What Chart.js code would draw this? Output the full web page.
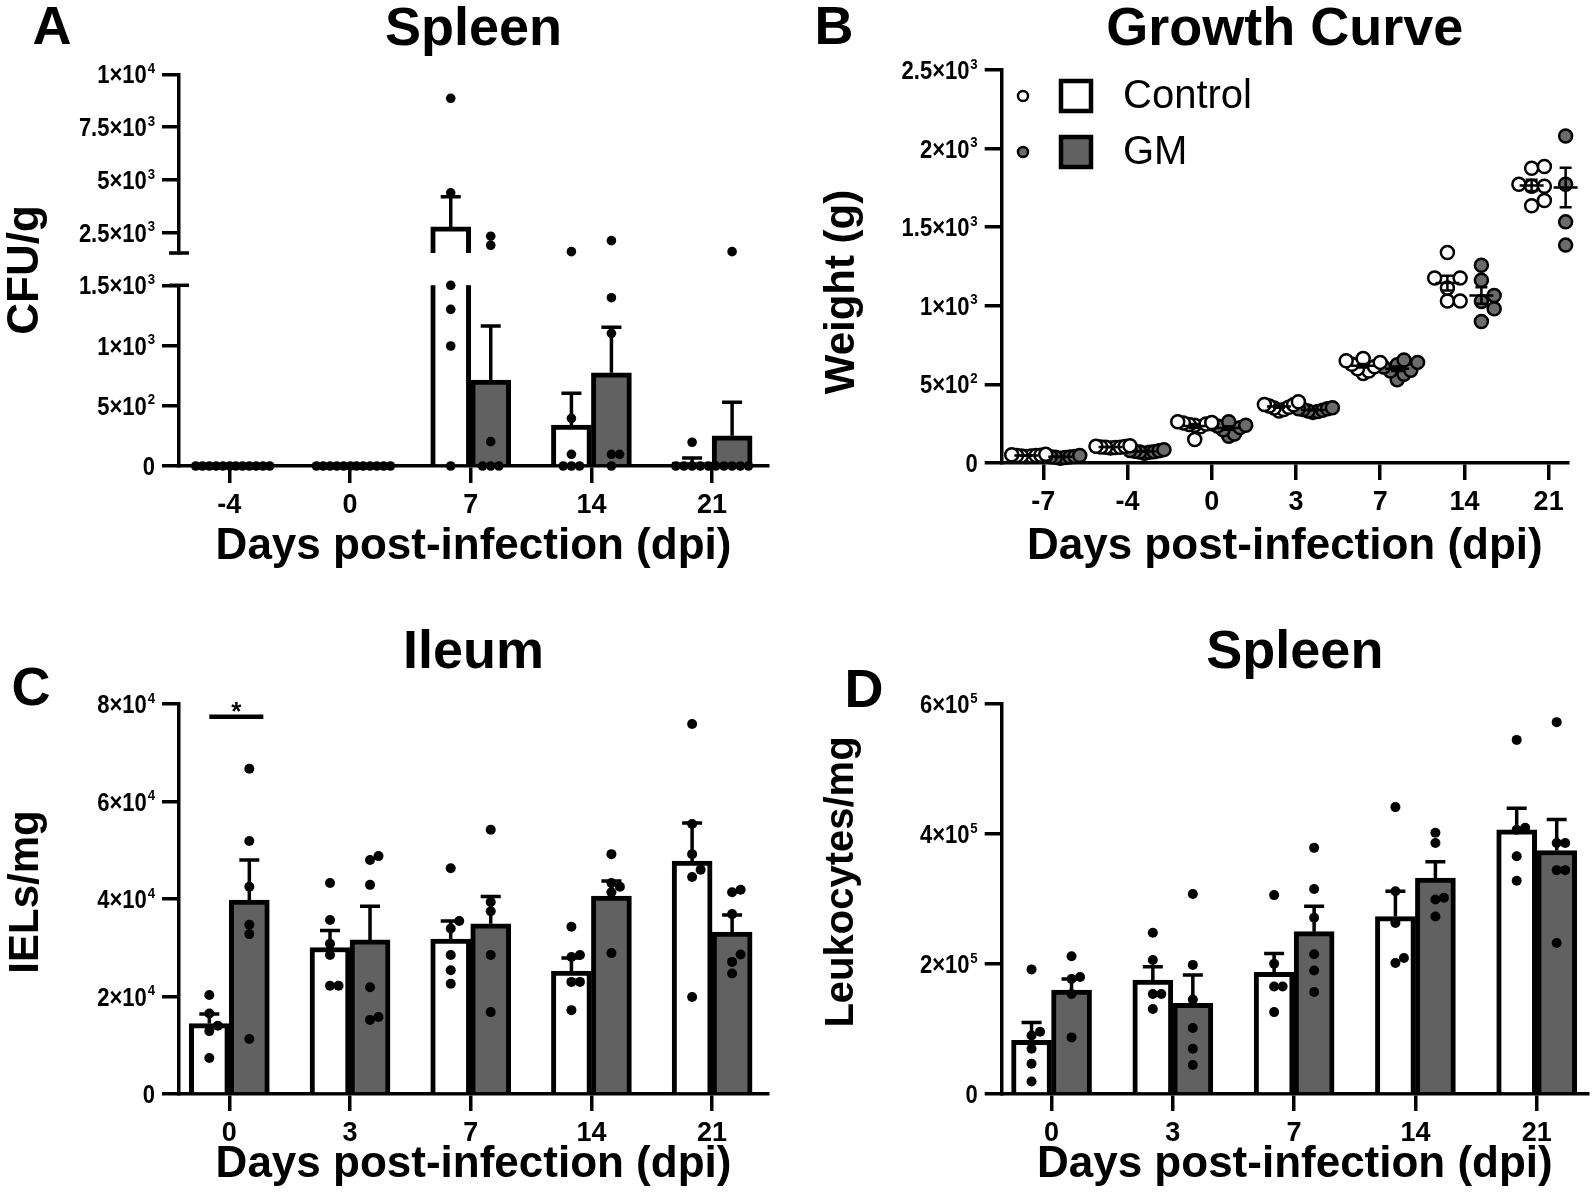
<!DOCTYPE html>
<html>
<head>
<meta charset="utf-8">
<script src="https://cdn.jsdelivr.net/npm/chart.js@4.4.1/dist/chart.umd.min.js"></script>
<style>
  html, body { margin: 0; padding: 0; background: #fff; }
  #wrap { position: relative; width: 1593px; height: 1194px; overflow: hidden; background: #fff; }
  #wrap canvas { position: absolute; left: 0; top: 0; }
</style>
</head>
<body>
<div id="wrap">
  <canvas id="aTop" width="1593" height="1194"></canvas>
  <canvas id="aLow" width="1593" height="1194"></canvas>
  <canvas id="growth" width="1593" height="1194"></canvas>
  <canvas id="ileum" width="1593" height="1194"></canvas>
  <canvas id="spleen" width="1593" height="1194"></canvas>
</div>
<script>
// ---- data ----
const daysA = ['-4', '0', '7', '14', '21'];
const daysB = ['-7', '-4', '0', '3', '7', '14', '21'];
const daysCD = ['0', '3', '7', '14', '21'];

// A: spleen CFU/g (bar = mean, err = top of SEM whisker)
const aCtrlMean = [0, 0, 2784, 340, 33];
const aCtrlErr = [0, 0, 4205, 603, 66];
const aGmMean = [0, 0, 714, 774, 251];
const aGmErr = [0, 0, 1162, 1151, 530];
const aCtrlPts = [[0, 0, 0, 0, 0, 0], [0, 0, 0, 0, 0, 0], [8864, 4394, 1500, 1300, 996, 0], [1615, 395, 97, 0, 0, 0], [197, 0, 0, 0, 0, 0]];
const aGmPts = [[0, 0, 0, 0, 0, 0], [0, 0, 0, 0, 0, 0], [2344, 1917, 202, 0, 0, 0], [2135, 1397, 1101, 97, 97, 0], [1615, 0, 0, 0, 0, 0]];
const aTicksLow = [0, 500, 1000, 1500];
const aTicksHigh = [2500, 5000, 7500, 10000];

// B: growth curve, weight (g)
const bCtrlPts = [
  [52, 48, 45, 50, 42, 55, 47, 44],
  [105, 100, 96, 110, 102, 98, 106, 100],
  [255, 248, 240, 262, 230, 245, 258, 150],
  [390, 370, 355, 340, 362, 350, 372, 330],
  [665, 650, 628, 600, 585, 640, 612, 570],
  [1339, 1177, 1177, 1113, 1030, 1030],
  [1886, 1875, 1773, 1761, 1761, 1670, 1636]
];
const bGmPts = [
  [40, 35, 45, 38, 30, 48, 42, 36],
  [75, 68, 80, 62, 85, 72, 78, 70],
  [262, 240, 225, 250, 170, 185, 235, 212],
  [352, 345, 330, 340, 328, 335, 322, 345],
  [655, 625, 590, 565, 610, 640, 585, 530],
  [1258, 1162, 1066, 1028, 981, 900],
  [2148, 2080, 1773, 1591, 1534, 1386]
];
const bTicks = [0, 500, 1000, 1500, 2000, 2500];

// C: ileum IELs/mg
const cCtrlMean = [14440, 30050, 31770, 25200, 47800];
const cCtrlErr = [16400, 33560, 35500, 27900, 55600];
const cGmMean = [39800, 31600, 34900, 40600, 33200];
const cGmErr = [48000, 38500, 40500, 43700, 36700];
const cCtrlPts = [[20300, 16500, 14000, 12900, 7400], [43300, 35700, 30800, 28500, 22200, 22200], [46300, 35500, 33950, 28500, 25400, 22600], [34300, 28500, 28100, 23000, 23000, 17200], [75900, 55400, 49200, 46000, 44500, 19900]];
const cGmPts = [[66700, 51900, 42500, 34700, 32800, 11300], [48000, 48800, 42900, 21900, 15200, 15800], [54200, 39400, 37500, 28500, 16800], [49200, 43300, 42500, 41400, 28900], [41400, 41900, 36900, 28600, 27100, 24700]];
const cTicks = [0, 20000, 40000, 60000, 80000];
const cSigLevel = 77400;

// D: spleen leukocytes/mg
const dCtrlMean = [82500, 175400, 187000, 273000, 406600];
const dCtrlErr = [110000, 195700, 216000, 311900, 439700];
const dGmMean = [159700, 139400, 249700, 332200, 374600];
const dGmErr = [177100, 183000, 288700, 357200, 422200];
const dCtrlPts = [[191700, 95800, 90000, 69700, 46500, 19200], [248000, 206200, 153900, 153900, 130700], [306000, 200400, 165500, 165500, 126000], [441400, 311900, 263100, 201500, 209100], [544800, 406600, 409500, 365900, 328200]];
const dGmPts = [[212000, 180000, 177000, 153900, 87100], [307800, 198600, 145200, 101600, 69700, 44700], [378700, 315400, 271200, 214900, 189900, 156800], [401900, 386200, 302000, 299100, 273000], [572100, 386200, 386200, 344400, 344400, 232300]];
const dTicks = [0, 200000, 400000, 600000];

// ---- styling ----
const FONT = "'Liberation Sans', Arial, Helvetica, sans-serif";
Chart.defaults.font.family = FONT;
Chart.defaults.color = '#000';
const GM_FILL = '#616161';
const GM_DOT = '#6b6b6b';
const AX = 3.5;
const TICK = 17;

// "2.5", "3" for 2500 -> drawn as 2.5×10 with a raised exponent
function sciParts(v) {
  if (v === 0) return ['0', ''];
  const e = Math.floor(Math.log10(v) + 1e-9);
  const m = Math.round(v / Math.pow(10, e) * 100) / 100;
  return [m + '×10', String(e)];
}

// y tick labels with a proper superscript, placed by the y scale
const sciTicks = {
  id: 'sciTicks',
  afterDraw(chart) {
    const ys = chart.scales.y, ctx = chart.ctx;
    const right = chart.chartArea.left - TICK - 7;
    ctx.save();
    ctx.fillStyle = '#000';
    ys.ticks.forEach(t => {
      const y = ys.getPixelForValue(t.value);
      const [base, exp] = sciParts(t.value);
      ctx.save();
      ctx.translate(right, y);
      ctx.scale(0.88, 1);
      ctx.textAlign = 'right';
      ctx.textBaseline = 'alphabetic';
      let x = 0;
      if (exp) {
        ctx.font = 'bold 15px ' + FONT;
        ctx.fillText(exp, 0, -1.5);
        x = -ctx.measureText(exp).width - 1;
      }
      ctx.font = 'bold 25px ' + FONT;
      ctx.fillText(base, x, 9);
      ctx.restore();
    });
    ctx.restore();
  }
};

function xAxis(labels, min, max, height, show) {
  return {
    type: 'linear', min, max, display: show, offset: false,
    afterBuildTicks: s => { s.ticks = labels.map((_, i) => ({ value: i })); },
    afterFit: s => { s.height = height; },
    ticks: { callback: v => labels[v], font: { size: 27, weight: 'bold' }, padding: 6, maxRotation: 0, autoSkip: false, color: '#000' },
    grid: { offset: false, drawOnChartArea: false, tickLength: TICK, lineWidth: AX, color: '#000' },
    border: { display: true, width: AX, color: '#000' },
    title: { display: show, text: 'Days post-infection (dpi)', color: '#000', font: { size: 44, weight: 'bold', lineHeight: 1 }, padding: 0 }
  };
}

function yAxis(min, max, ticks) {
  return {
    type: 'linear', min, max,
    afterBuildTicks: s => { s.ticks = ticks.map(v => ({ value: v })); },
    afterFit: s => { s.width = 150; },
    ticks: { display: false, autoSkip: false },
    grid: { drawOnChartArea: false, tickLength: TICK, lineWidth: AX, color: '#000' },
    border: { display: true, width: AX, color: '#000' }
  };
}

function titleOpt(text, bottomPad) {
  return { display: true, text, fullSize: false, color: '#000', font: { size: 54, weight: 'bold', lineHeight: 1 }, padding: { top: 0, bottom: bottomPad } };
}

function barDs(label, means, fill) {
  return { type: 'bar', label, order: 2, data: means.map((y, i) => ({ x: i, y })),
    backgroundColor: fill, borderColor: '#000', borderWidth: 5, barThickness: 40, borderSkipped: 'start' };
}

function dotDs(label, groups, r, fill, bw) {
  return { type: 'scatter', label, order: 1, clip: false,
    data: groups.flatMap((vals, i) => vals.map(y => ({ x: i, y }))),
    pointRadius: r, pointHoverRadius: r, pointBackgroundColor: fill, pointBorderColor: '#000', pointBorderWidth: bw };
}

// spread overlapping dots sideways, like a scatter dot plot
function spread(chart, dsIdx, groups, centerOf, diam, maxW) {
  const xs = chart.scales.x, ys = chart.scales.y;
  const step = diam * 0.85;
  const out = [];
  groups.forEach((vals, i) => {
    if (!vals.length) return;
    const cx = centerOf(i);
    const placed = [];
    vals.map(v => ({ v, py: ys.getPixelForValue(v) }))
      .sort((a, b) => b.py - a.py)
      .forEach(p => {
        for (let n = 0; n < 80; n++) {
          const off = Math.ceil(n / 2) * step * (n % 2 ? 1 : -1);
          if (placed.every(q => Math.hypot(q.off - off, q.py - p.py) >= step - 0.01)) {
            placed.push({ v: p.v, py: p.py, off });
            break;
          }
        }
      });
    const offs = placed.map(p => p.off);
    const span = Math.max(...offs) - Math.min(...offs);
    const f = span > maxW ? maxW / span : 1;
    placed.forEach(p => out.push({ x: xs.getValueForPixel(cx + p.off * f), y: p.v }));
  });
  chart.data.datasets[dsIdx].data = out;
}

function drawRotated(ctx, text, x, y, size) {
  ctx.save();
  ctx.translate(x, y);
  ctx.rotate(-Math.PI / 2);
  ctx.font = 'bold ' + size + 'px ' + FONT;
  ctx.textAlign = 'center';
  ctx.textBaseline = 'middle';
  ctx.fillText(text, 0, 0);
  ctx.restore();
}

function drawLetter(ctx, text, x, y) {
  ctx.font = 'bold 54px ' + FONT;
  ctx.textAlign = 'center';
  ctx.textBaseline = 'middle';
  ctx.fillText(text, x, y);
}

// mean + SEM whiskers on top of the bars
function drawErrors(chart, series) {
  const ctx = chart.ctx, ys = chart.scales.y;
  const { left, right, top, bottom } = chart.chartArea;
  ctx.save();
  ctx.beginPath();
  ctx.rect(left, top - 5, right - left, bottom - top + 5);
  ctx.clip();
  ctx.strokeStyle = '#000';
  ctx.lineWidth = AX;
  series.forEach(s => {
    const bars = chart.getDatasetMeta(s.bar).data;
    s.mean.forEach((m, i) => {
      if (s.top[i] <= m) return;
      const x = bars[i].x;
      const y1 = ys.getPixelForValue(m), y2 = ys.getPixelForValue(s.top[i]);
      ctx.beginPath();
      ctx.moveTo(x, y1); ctx.lineTo(x, y2);
      ctx.moveTo(x - 10, y2); ctx.lineTo(x + 10, y2);
      ctx.stroke();
    });
  });
  ctx.restore();
}

function el(id) { return document.getElementById(id); }

const baseOpts = { responsive: false, animation: false, events: [] };
const noLegend = { legend: { display: false }, tooltip: { enabled: false } };

// ---------- Panel A (broken axis: two stacked charts) ----------
const aHighPts = g => g.map(v => v.filter(y => y > 1500));
const aLowPts = g => g.map(v => v.filter(y => y <= 1500));

const aTop = new Chart(el('aTop'), {
  type: 'bar',
  data: { datasets: [
    dotDs('Control', aHighPts(aCtrlPts), 4.8, '#000', 0),
    dotDs('GM', aHighPts(aGmPts), 4.8, '#000', 0),
    barDs('Control', aCtrlMean, '#ffffff'),
    barDs('GM', aGmMean, GM_FILL)
  ] },
  options: { ...baseOpts,
    layout: { padding: { left: 29, right: 825, top: 3, bottom: 941 } },
    scales: { x: xAxis(daysA, -0.417, 4.463, 0, false), y: yAxis(1550, 10000, aTicksHigh) },
    plugins: { ...noLegend, title: titleOpt('Spleen', 17.3) }
  },
  plugins: [sciTicks, {
    id: 'decorA1',
    afterDatasetsDraw(chart) {
      const ctx = chart.ctx, ca = chart.chartArea;
      drawErrors(chart, [{ bar: 2, mean: aCtrlMean, top: aCtrlErr }, { bar: 3, mean: aGmMean, top: aGmErr }]);
      ctx.save();
      ctx.fillStyle = '#000'; ctx.strokeStyle = '#000'; ctx.lineWidth = AX;
      ctx.beginPath(); ctx.moveTo(ca.left - 10, ca.bottom); ctx.lineTo(ca.left + 10, ca.bottom); ctx.stroke();
      drawLetter(ctx, 'A', 52, 29);
      drawRotated(ctx, 'CFU/g', 26, 270, 44);
      ctx.restore();
    }
  }]
});

const aLow = new Chart(el('aLow'), {
  type: 'bar',
  data: { datasets: [
    dotDs('Control', aLowPts(aCtrlPts), 4.8, '#000', 0),
    dotDs('GM', aLowPts(aGmPts), 4.8, '#000', 0),
    barDs('Control', aCtrlMean, '#ffffff'),
    barDs('GM', aGmMean, GM_FILL)
  ] },
  options: { ...baseOpts,
    layout: { padding: { left: 29, right: 825, top: 285.3, bottom: 625 } },
    scales: { x: xAxis(daysA, -0.417, 4.463, 103, true), y: yAxis(0, 1500, aTicksLow) },
    plugins: { ...noLegend }
  },
  plugins: [sciTicks, {
    id: 'decorA2',
    afterDatasetsDraw(chart) {
      const ctx = chart.ctx, ca = chart.chartArea;
      drawErrors(chart, [{ bar: 2, mean: aCtrlMean, top: aCtrlErr }, { bar: 3, mean: aGmMean, top: aGmErr }]);
      ctx.save();
      ctx.strokeStyle = '#000'; ctx.lineWidth = AX;
      ctx.beginPath(); ctx.moveTo(ca.left - 10, ca.top); ctx.lineTo(ca.left + 10, ca.top); ctx.stroke();
      ctx.restore();
    }
  }]
});

// ---------- Panel B (growth curve) ----------
function meanSem(vals) {
  const n = vals.length, m = vals.reduce((a, b) => a + b, 0) / n;
  const sd = Math.sqrt(vals.reduce((a, b) => a + (b - m) * (b - m), 0) / (n - 1));
  return [m, sd / Math.sqrt(n)];
}
const B_OFF = 17;

const growth = new Chart(el('growth'), {
  type: 'scatter',
  data: { datasets: [
    dotDs('Control', bCtrlPts, 6.5, '#ffffff', 2.5),
    dotDs('GM', bGmPts, 6.5, GM_DOT, 2.5)
  ] },
  options: { ...baseOpts,
    layout: { padding: { left: 851.7, right: 25, top: 3, bottom: 625 } },
    scales: { x: xAxis(daysB, -0.494, 6.23, 106, true), y: yAxis(0, 2500, bTicks) },
    plugins: { ...noLegend, title: titleOpt('Growth Curve', 13) }
  },
  plugins: [sciTicks, {
    id: 'decorB',
    afterDatasetsDraw(chart) {
      const ctx = chart.ctx, xs = chart.scales.x, ys = chart.scales.y;
      ctx.save();
      ctx.strokeStyle = '#000'; ctx.fillStyle = '#000'; ctx.lineWidth = 2.5;
      [[bCtrlPts, -B_OFF], [bGmPts, B_OFF]].forEach(([groups, off]) => {
        groups.forEach((vals, i) => {
          const [m, se] = meanSem(vals);
          const x = xs.getPixelForValue(i) + off;
          const ym = ys.getPixelForValue(m), yl = ys.getPixelForValue(m - se), yh = ys.getPixelForValue(m + se);
          ctx.beginPath();
          ctx.moveTo(x - 12, ym); ctx.lineTo(x + 12, ym);
          ctx.moveTo(x, yl); ctx.lineTo(x, yh);
          ctx.moveTo(x - 6, yl); ctx.lineTo(x + 6, yl);
          ctx.moveTo(x - 6, yh); ctx.lineTo(x + 6, yh);
          ctx.stroke();
        });
      });
      // legend
      [['Control', '#ffffff', '#ffffff', 96], ['GM', GM_DOT, GM_FILL, 152]].forEach(([name, dot, box, y]) => {
        ctx.strokeStyle = '#000';
        ctx.lineWidth = 2.5;
        ctx.beginPath(); ctx.arc(1023, y, 5, 0, Math.PI * 2);
        ctx.fillStyle = dot; ctx.fill(); ctx.stroke();
        ctx.lineWidth = 4.5;
        ctx.fillStyle = box;
        ctx.fillRect(1061, y - 15, 30, 30);
        ctx.strokeRect(1061, y - 15, 30, 30);
        ctx.fillStyle = '#000';
        ctx.font = '40px ' + FONT;
        ctx.textAlign = 'left'; ctx.textBaseline = 'middle';
        ctx.fillText(name, 1123, y + 1);
      });
      drawLetter(ctx, 'B', 834, 29);
      drawRotated(ctx, 'Weight (g)', 842, 292, 42);
      ctx.restore();
    }
  }]
});

// ---------- Panel C (ileum) ----------
const ileum = new Chart(el('ileum'), {
  type: 'bar',
  data: { datasets: [
    dotDs('Control', cCtrlPts, 5, '#000', 0),
    dotDs('GM', cGmPts, 5, '#000', 0),
    barDs('Control', cCtrlMean, '#ffffff'),
    barDs('GM', cGmMean, GM_FILL)
  ] },
  options: { ...baseOpts,
    layout: { padding: { left: 29, right: 825, top: 626, bottom: 7 } },
    scales: { x: xAxis(daysCD, -0.417, 4.463, 93, true), y: yAxis(0, 80000, cTicks) },
    plugins: { ...noLegend, title: titleOpt('Ileum', 24) }
  },
  plugins: [sciTicks, {
    id: 'decorC',
    afterDatasetsDraw(chart) {
      const ctx = chart.ctx, ys = chart.scales.y;
      drawErrors(chart, [{ bar: 2, mean: cCtrlMean, top: cCtrlErr }, { bar: 3, mean: cGmMean, top: cGmErr }]);
      ctx.save();
      ctx.fillStyle = '#000'; ctx.strokeStyle = '#000';
      const x1 = chart.getDatasetMeta(2).data[0].x, x2 = chart.getDatasetMeta(3).data[0].x + 14;
      const y = ys.getPixelForValue(cSigLevel);
      ctx.lineWidth = 4.5;
      ctx.beginPath(); ctx.moveTo(x1, y); ctx.lineTo(x2, y); ctx.stroke();
      ctx.font = 'bold 26px ' + FONT;
      ctx.textAlign = 'center'; ctx.textBaseline = 'alphabetic';
      ctx.fillText('*', (x1 + x2) / 2, y + 3);
      drawLetter(ctx, 'C', 31, 690);
      drawRotated(ctx, 'IELs/mg', 26, 892, 42);
      ctx.restore();
    }
  }]
});

// ---------- Panel D (spleen leukocytes) ----------
const spleen = new Chart(el('spleen'), {
  type: 'bar',
  data: { datasets: [
    dotDs('Control', dCtrlPts, 5, '#000', 0),
    dotDs('GM', dGmPts, 5, '#000', 0),
    barDs('Control', dCtrlMean, '#ffffff'),
    barDs('GM', dGmMean, GM_FILL)
  ] },
  options: { ...baseOpts,
    layout: { padding: { left: 851.7, right: 3, top: 626, bottom: 7 } },
    scales: { x: xAxis(daysCD, -0.411, 4.423, 93, true), y: yAxis(0, 600000, dTicks) },
    plugins: { ...noLegend, title: titleOpt('Spleen', 24) }
  },
  plugins: [sciTicks, {
    id: 'decorD',
    afterDatasetsDraw(chart) {
      const ctx = chart.ctx;
      drawErrors(chart, [{ bar: 2, mean: dCtrlMean, top: dCtrlErr }, { bar: 3, mean: dGmMean, top: dGmErr }]);
      ctx.save();
      ctx.fillStyle = '#000';
      drawLetter(ctx, 'D', 864, 692);
      drawRotated(ctx, 'Leukocytes/mg', 842, 882, 40);
      ctx.restore();
    }
  }]
});

// ---------- place the dots beside each other ----------
function barCenter(chart, idx) { return i => chart.getDatasetMeta(idx).data[i].x; }
spread(aTop, 0, aHighPts(aCtrlPts), barCenter(aTop, 2), 9.6, 34);
spread(aTop, 1, aHighPts(aGmPts), barCenter(aTop, 3), 9.6, 34);
spread(aLow, 0, aLowPts(aCtrlPts), barCenter(aLow, 2), 9.6, 34);
spread(aLow, 1, aLowPts(aGmPts), barCenter(aLow, 3), 9.6, 34);
spread(growth, 0, bCtrlPts, i => growth.scales.x.getPixelForValue(i) - B_OFF, 15, 34);
spread(growth, 1, bGmPts, i => growth.scales.x.getPixelForValue(i) + B_OFF, 15, 34);
spread(ileum, 0, cCtrlPts, barCenter(ileum, 2), 10, 30);
spread(ileum, 1, cGmPts, barCenter(ileum, 3), 10, 30);
spread(spleen, 0, dCtrlPts, barCenter(spleen, 2), 10, 30);
spread(spleen, 1, dGmPts, barCenter(spleen, 3), 10, 30);
[aTop, aLow, growth, ileum, spleen].forEach(c => c.update('none'));
</script>
</body>
</html>
